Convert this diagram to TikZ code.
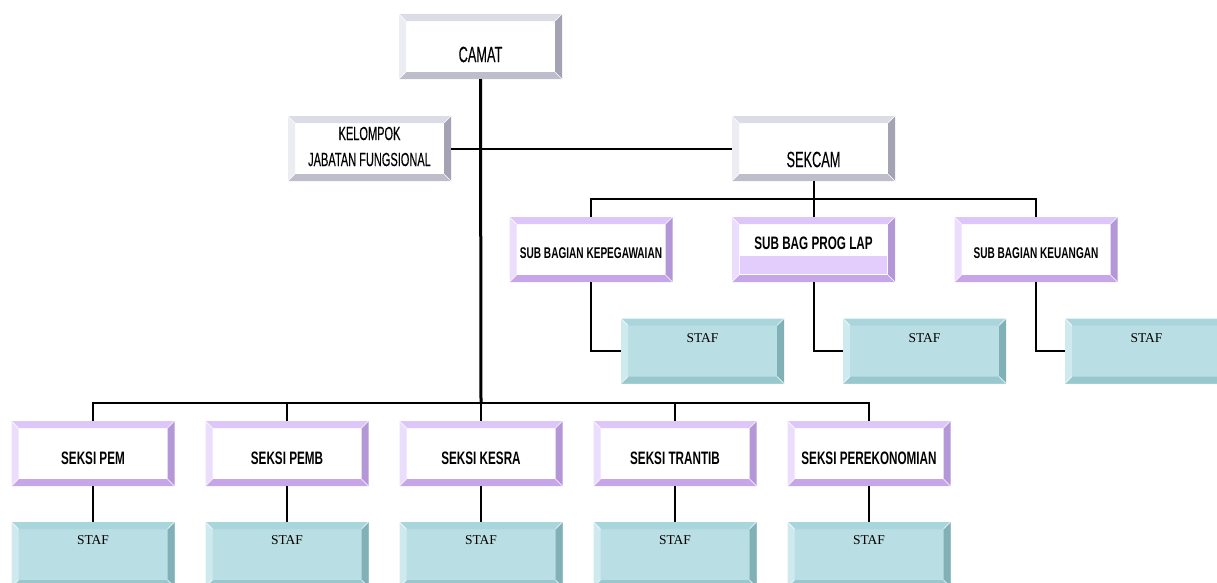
\documentclass[tikz,border=0pt]{standalone}
\usepackage{fontspec}
\newfontfamily\agency[FakeStretch=0.58,FakeBold=0.25]{Liberation Sans}
\newfontfamily\agencyb[FakeStretch=0.65]{Liberation Sans Bold}
\newfontfamily\timesf{Liberation Serif}
\definecolor{gtop}{HTML}{DCDCE6}
\definecolor{gleft}{HTML}{ECECF3}
\definecolor{gright}{HTML}{A3A3B3}
\definecolor{gbot}{HTML}{BDBDCB}
\definecolor{ptop}{HTML}{DDC6FA}
\definecolor{pleft}{HTML}{EBDDFC}
\definecolor{pright}{HTML}{B397D6}
\definecolor{pbot}{HTML}{C6A6E8}
\definecolor{pband}{HTML}{E3CDFC}
\definecolor{tin}{HTML}{B9DEE3}
\definecolor{ttop}{HTML}{A9D6DC}
\definecolor{tleft}{HTML}{CFEAEE}
\definecolor{tright}{HTML}{82B0B7}
\definecolor{tbot}{HTML}{98C8CE}
\tikzset{
  bevel/.style n args={5}{rectangle, inner sep=0pt, minimum width=163pt, minimum height=65pt, fill=#1,
    path picture={
      \coordinate (nw) at (path picture bounding box.north west);
      \coordinate (ne) at (path picture bounding box.north east);
      \coordinate (sw) at (path picture bounding box.south west);
      \coordinate (se) at (path picture bounding box.south east);
      \fill[#2] (nw) -- (ne) -- ([shift={(-7pt,-7pt)}]ne) -- ([shift={(7pt,-7pt)}]nw) -- cycle;
      \fill[#3] (nw) -- ([shift={(7pt,-7pt)}]nw) -- ([shift={(7pt,7pt)}]sw) -- (sw) -- cycle;
      \fill[#4] (ne) -- (se) -- ([shift={(-7pt,7pt)}]se) -- ([shift={(-7pt,-7pt)}]ne) -- cycle;
      \fill[#5] (sw) -- (se) -- ([shift={(-7pt,7pt)}]se) -- ([shift={(7pt,7pt)}]sw) -- cycle;
      \draw[white, line width=0.6pt] (nw) -- ([shift={(7pt,-7pt)}]nw) (ne) -- ([shift={(-7pt,-7pt)}]ne)
        (sw) -- ([shift={(7pt,7pt)}]sw) (se) -- ([shift={(-7pt,7pt)}]se);
    }},
  graybox/.style={bevel={white}{gtop}{gleft}{gright}{gbot}},
  purplebox/.style={bevel={white}{ptop}{pleft}{pright}{pbot}},
  tealbox/.style={bevel={tin}{ttop}{tleft}{tright}{tbot}},
  gtxt/.style={font=\agency, text=black, align=center},
  ptxt/.style={font=\agencyb, text=black},
  stxt/.style={font=\timesf\fontsize{13.5}{15}\selectfont, text=black},
  conn/.style={line width=2pt, black},
  mainline/.style={line width=3pt, black},
}
\begin{document}
\begin{tikzpicture}[x=1pt, y=-1pt]
\useasboundingbox (0,0) rectangle (1217,582);
\clip (0,0) rectangle (1217,582);
% top
\node[graybox, label={[gtxt, font=\agency\fontsize{22}{24}\selectfont, yshift=-8pt]center:CAMAT}] (camat) at (480.5,46.5) {};
\node[graybox, label={[gtxt, font=\agency\fontsize{19}{26}\selectfont, yshift=2pt]center:KELOMPOK\\JABATAN FUNGSIONAL}] (kel) at (369.5,148.5) {};
\node[graybox, label={[gtxt, font=\agency\fontsize{22}{24}\selectfont, yshift=-11pt]center:SEKCAM}] (sekcam) at (813.5,148.5) {};
% sub bagian
\node[purplebox, label={[ptxt, font=\agencyb\fontsize{15.5}{17}\selectfont, yshift=-4pt]center:SUB BAGIAN KEPEGAWAIAN}] (kep) at (591,249.5) {};
\node[purplebox] (prog) at (813.5,249.5) {};
\fill[pband] ([shift={(8pt,8pt)}]prog.south west) rectangle ([shift={(-8pt,26pt)}]prog.south east);
\node[ptxt, font=\agencyb\fontsize{18}{20}\selectfont] (progtxt) at ([yshift=6pt]prog.center) {SUB BAG PROG LAP};
\node[purplebox, label={[ptxt, font=\agencyb\fontsize{15.5}{17}\selectfont, yshift=-4pt]center:SUB BAGIAN KEUANGAN}] (keu) at (1036,249.5) {};
% staf upper
\node[tealbox, label={[stxt, yshift=13pt]center:STAF}] (s1) at (702.5,351) {};
\node[tealbox, label={[stxt, yshift=13pt]center:STAF}] (s2) at (924.5,351) {};
\node[tealbox, label={[stxt, yshift=13pt]center:STAF}] (s3) at (1146.5,351) {};
% seksi
\node[purplebox, label={[ptxt, font=\agencyb\fontsize{18}{20}\selectfont, yshift=-4.5pt]center:SEKSI PEM}] (pem) at (93,453.5) {};
\node[purplebox, label={[ptxt, font=\agencyb\fontsize{18}{20}\selectfont, yshift=-4.5pt]center:SEKSI PEMB}] (pemb) at (287,453.5) {};
\node[purplebox, label={[ptxt, font=\agencyb\fontsize{18}{20}\selectfont, yshift=-4.5pt]center:SEKSI KESRA}] (kesra) at (481,453.5) {};
\node[purplebox, label={[ptxt, font=\agencyb\fontsize{18}{20}\selectfont, yshift=-4.5pt]center:SEKSI TRANTIB}] (trantib) at (675,453.5) {};
\node[purplebox, label={[ptxt, font=\agencyb\fontsize{18}{20}\selectfont, yshift=-4.5pt]center:SEKSI PEREKONOMIAN}] (ekon) at (869,453.5) {};
% staf lower
\node[tealbox, label={[stxt, yshift=14.5pt]center:STAF}] (l1) at (93,554.5) {};
\node[tealbox, label={[stxt, yshift=14.5pt]center:STAF}] (l2) at (287,554.5) {};
\node[tealbox, label={[stxt, yshift=14.5pt]center:STAF}] (l3) at (481,554.5) {};
\node[tealbox, label={[stxt, yshift=14.5pt]center:STAF}] (l4) at (675,554.5) {};
\node[tealbox, label={[stxt, yshift=14.5pt]center:STAF}] (l5) at (869,554.5) {};
% connectors
\coordinate (sb) at (813.5,199);
\coordinate (mb) at (481,403);
\draw[conn] (kel.east) -- (sekcam.west);
\draw[conn] (sekcam.south) -- (sb);
\draw[conn] (kep.north) |- (sb) -| (keu.north);
\draw[conn] (prog.north) -- (sb);
\draw[conn] (kep.south) |- (s1.west);
\draw[conn] (prog.south) |- (s2.west);
\draw[conn] (keu.south) |- (s3.west);
\draw[conn] (pem.north) |- (mb) -| (ekon.north);
\draw[conn] (pemb.north) |- (mb);
\draw[conn] (trantib.north) |- (mb);
\draw[conn] (kesra.north) -- (mb);
\draw[mainline] (camat.south) -- (mb);
\draw[conn] (pem.south) -- (l1.north);
\draw[conn] (pemb.south) -- (l2.north);
\draw[conn] (kesra.south) -- (l3.north);
\draw[conn] (trantib.south) -- (l4.north);
\draw[conn] (ekon.south) -- (l5.north);
\end{tikzpicture}
\end{document}
